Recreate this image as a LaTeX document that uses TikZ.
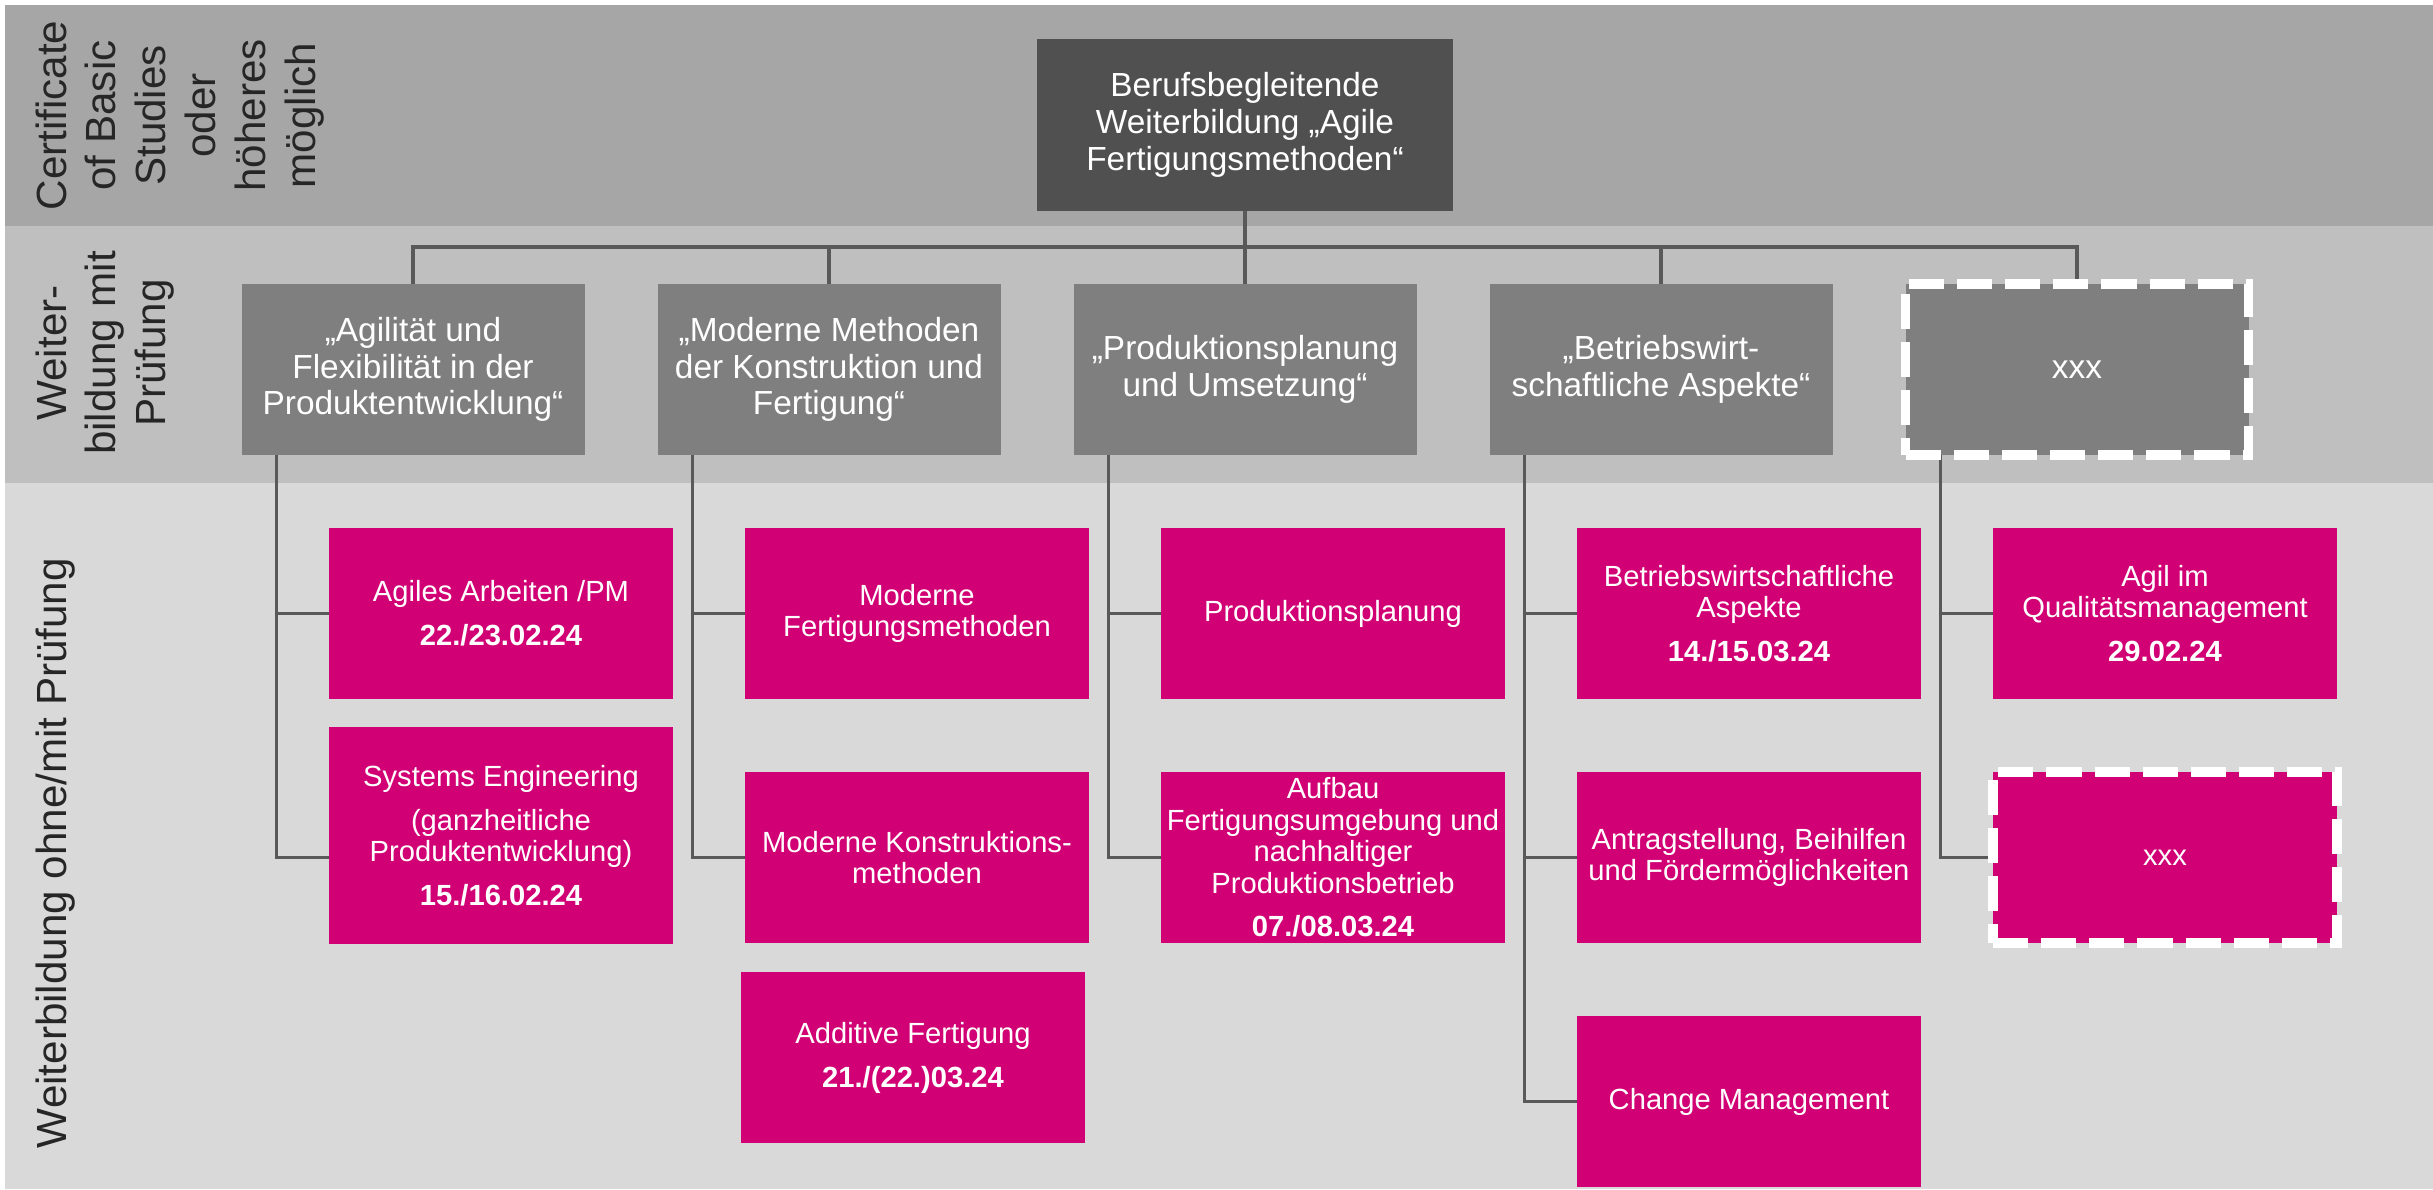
\documentclass[tikz,border=0pt]{standalone}
\usepackage{fontspec}
\setmainfont{Liberation Sans}
\usetikzlibrary{positioning,backgrounds,calc}
\definecolor{bandA}{HTML}{A6A6A6}
\definecolor{bandB}{HTML}{BFBFBF}
\definecolor{bandC}{HTML}{D9D9D9}
\definecolor{hauptgrau}{HTML}{505050}
\definecolor{modgrau}{HTML}{7F7F7F}
\definecolor{kursrot}{RGB}{209,0,116}
\definecolor{liniengrau}{HTML}{595959}
\definecolor{schrift}{HTML}{262626}

\begin{document}
\begin{tikzpicture}[%
    node distance=7.3mm,    % Abstand zwischen den Kaesten
    every node/.style={inner sep=0pt, outer sep=0pt},
    ]
\tikzset{
  base/.style={align=center, text=white, minimum height=17.1mm},
  haupt/.style={base, fill=hauptgrau, minimum width=41.6mm, minimum height=17.2mm, font=\fontsize{9.5}{10.6}\selectfont},
  modul/.style={base, fill=modgrau, minimum width=34.3mm, font=\fontsize{9.5}{10.45}\selectfont},
  kurs/.style={base, fill=kursrot, minimum width=34.4mm, font=\fontsize{8.3}{8.95}\selectfont},
  offen/.style={draw=white, line width=2.8pt, dash pattern=on 10pt off 3.7pt},
  ar/.style={draw=liniengrau, line width=0.9pt},
  lbl/.style={rotate=90, anchor=north, align=center, text=schrift, font=\fontsize{12}{14.2}\selectfont}
}
\useasboundingbox (0,0) rectangle (24.33,-11.89);
\begin{scope}[on background layer]
  \fill[bandA] (0.05,-0.05) rectangle (24.33,-2.26);
  \fill[bandB] (0.05,-2.26) rectangle (24.33,-4.83);
  \fill[bandC] (0.05,-4.83) rectangle (24.33,-11.89);
\end{scope}

    % Ebenen links
    \node [lbl] (l1) at (0.355,-1.155) {Certificate\\of Basic\\Studies\\oder\\höheres\\möglich};
    \node [lbl] (l2) at (0.355,-3.53) {Weiter-\\bildung mit\\Prüfung};
    \node [lbl] (l3) at (0.355,-8.53) {Weiterbildung ohne/mit Prüfung};

    \node [haupt] (wb) at (12.45,-1.25) {Berufsbegleitende\\Weiterbildung „Agile\\Fertigungsmethoden“};
    \node [modul, below=of wb] (m3) {„Produktionsplanung\\und Umsetzung“};
    \node [modul, left=of m3] (m2) {„Moderne Methoden\\der Konstruktion und\\Fertigung“};
    \node [modul, left=of m2] (m1) {„Agilität und\\Flexibilität in der\\Produktentwicklung“};
    \node [modul, right=of m3] (m4) {„Betriebswirt-\\schaftliche Aspekte“};
    \node [modul, offen, right=of m4] (m5) {xxx};

    \node [kurs, below right=7.3mm and 8.75mm of m1.south west] (k11) {Agiles Arbeiten /PM\\[3.55pt]\textbf{22./23.02.24}};
    \node [kurs, minimum height=21.7mm, below=2.8mm of k11] (k12) {Systems Engineering\\[3.55pt](ganzheitliche\\Produktentwicklung)\\[3.55pt]\textbf{15./16.02.24}};

    \node [kurs, below right=7.3mm and 8.75mm of m2.south west] (k21) {Moderne\\Fertigungsmethoden};
    \node [kurs, below=of k21] (k22) {Moderne Konstruktions-\\methoden};
    \node [kurs, below=2.9mm of k22, xshift=-0.4mm] (k23) {Additive Fertigung\\[3.55pt]\textbf{21./(22.)03.24}};

    \node [kurs, below right=7.3mm and 8.75mm of m3.south west] (k31) {Produktionsplanung};
    \node [kurs, below=of k31] (k32) {Aufbau\\Fertigungsumgebung und\\nachhaltiger\\Produktionsbetrieb\\[3.55pt]\textbf{07./08.03.24}};

    \node [kurs, below right=7.3mm and 8.75mm of m4.south west] (k41) {Betriebswirtschaftliche\\Aspekte\\[3.55pt]\textbf{14./15.03.24}};
    \node [kurs, below=of k41] (k42) {Antragstellung, Beihilfen\\und Fördermöglichkeiten};
    \node [kurs, below=of k42] (k43) {Change Management};

    \node [kurs, below right=7.3mm and 8.75mm of m5.south west] (k51) {Agil im\\Qualitätsmanagement\\[3.55pt]\textbf{29.02.24}};
    \node [kurs, offen, below=of k51] (k52) {xxx};

\begin{scope}[on background layer]
    \draw [ar] (wb.south) -- ++(0,-3.6mm) coordinate (bus);
    \foreach \i in {1,...,5}
        \draw [ar] (bus) -| (m\i.north);
    \foreach \c/\r in {1/k11.west, 1/{k12.west |- k22.west}, 2/k21.west, 2/k22.west,
                       3/k31.west, 3/k32.west, 4/k41.west, 4/k42.west, 4/k43.west,
                       5/k51.west, 5/k52.west}
        \draw [ar] ([xshift=3.5mm]m\c.south west) |- (\r);
\end{scope}
\end{tikzpicture}
\end{document}
